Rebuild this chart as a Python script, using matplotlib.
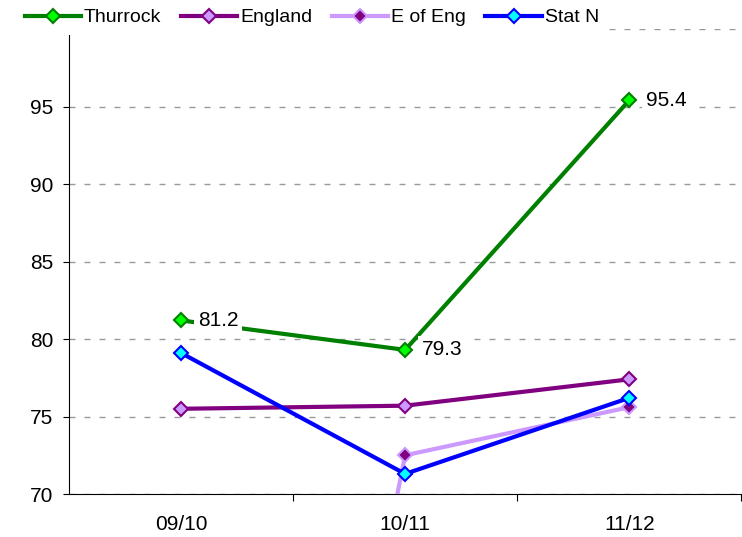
import matplotlib.pyplot as plt

plt.rcParams['font.family'] = ['Liberation Sans', 'DejaVu Sans']

years = ["09/10", "10/11", "11/12"]
thurrock = [81.2, 79.3, 95.4]
england = [75.5, 75.7, 77.4]
e_of_eng = [0.0, 72.5, 75.6]
stat_n = [79.1, 71.3, 76.2]

# (name, values, line colour, marker face, marker edge)
series = [
    ("Thurrock", thurrock, "#008000", "#00FF00", "#008000"),
    ("England", england, "#800080", "#CC99FF", "#800080"),
    ("E of Eng", e_of_eng, "#CC99FF", "#800080", "#CC99FF"),
    ("Stat N", stat_n, "#0000FF", "#00FFFF", "#0000FF"),
]

fig = plt.figure(figsize=(7.42, 5.37), dpi=100)
ax = fig.add_axes([0.093, 0.080, 0.906, 0.866])

x = [1, 2, 3]
for name, vals, lc, mf, me in series:
    ax.plot(x, vals, color=lc, lw=3, marker="D", markersize=7,
            markerfacecolor=mf, markeredgecolor=me, markeredgewidth=1.5,
            label=name, zorder=3)

# data labels for Thurrock
for xi, v in zip(x, thurrock):
    ax.annotate(f"{v:.1f}", (xi, v), xytext=(12, 0), textcoords="offset points",
                ha="left", va="center", fontsize=15, zorder=4,
                bbox=dict(boxstyle="square,pad=0.2", fc="white", ec="none"))

ax.set_xlim(0.5, 3.5)
ax.set_ylim(70, 100)
ax.set_yticks([70, 75, 80, 85, 90, 95, 100])
ax.set_yticklabels(["70", "75", "80", "85", "90", "95", ""])
ax.set_xticks([1.5, 2.5, 3.5])
ax.set_xticklabels([])
ax.set_xticks(x, minor=True)
ax.set_xticklabels(years, minor=True)
ax.tick_params(axis="x", which="minor", length=0, pad=15, labelsize=15)
ax.tick_params(axis="x", which="major", length=5, direction="out")
ax.tick_params(axis="y", length=4.5, pad=7, direction="out", labelsize=15)
ax.yaxis.grid(True, color="#999999", linestyle=(0, (4.3, 6.5)), lw=1.0)
ax.set_axisbelow(True)
for s in ["top", "right"]:
    ax.spines[s].set_visible(False)

leg = fig.legend(loc="upper left", bbox_to_anchor=(0.0216, 1.0), ncol=4,
                 frameon=True, fontsize=14, handlelength=2.9, handletextpad=0.15,
                 columnspacing=1.0, borderaxespad=0.0, borderpad=0.45,
                 fancybox=False)
leg.get_frame().set_edgecolor("none")
leg.get_frame().set_facecolor("white")
leg.get_frame().set_alpha(1)
leg.set_zorder(10)

fig.savefig("out.png", dpi=100)
